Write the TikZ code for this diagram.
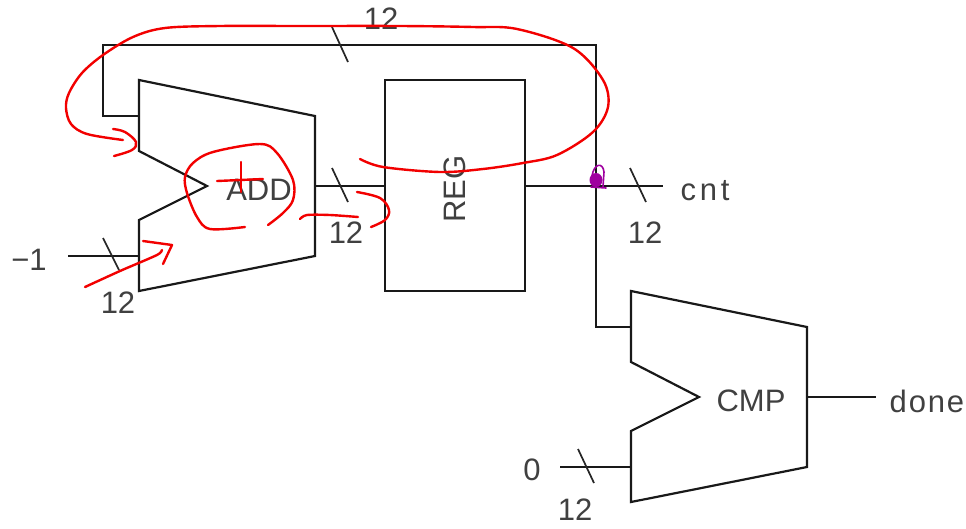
\documentclass[tikz,border=0pt]{standalone}
\usepackage{fontspec}
\setmainfont{Liberation Sans}
\begin{document}
\begin{tikzpicture}[x=1pt,y=-1pt,
  wire/.style={draw=black!90,line width=2.2pt,line join=miter},
  tick/.style={draw=black!85,line width=1.7pt},
  lbl/.style={inner sep=0pt,text=black!75,font=\fontsize{31}{31}\selectfont},
  ink/.style={draw=red!95!black,line width=2.4pt,line cap=round,line join=round},
  pen/.style={draw=violet!75!magenta,line width=1.6pt,line cap=round}]
\useasboundingbox[fill=white] (0,0) rectangle (966,528);
% ports
\coordinate (fbTL) at (103,45);
\coordinate (fbTR) at (596,45);
\coordinate (fbBL) at (103,116);
\coordinate (addA) at (139,116);
\coordinate (addB) at (139,256);
\coordinate (addO) at (315,186);
\coordinate (regI) at (385,186);
\coordinate (regO) at (525,186);
\coordinate (junc) at (596,186);
\coordinate (cntE) at (663,186);
\coordinate (cmpBend) at (596,327);
\coordinate (cmpA) at (631,327);
\coordinate (cmpB) at (631,467);
\coordinate (cmpO) at (807,397);
\coordinate (doneE) at (876,397);
\coordinate (m1E) at (68,256);
\coordinate (zeroE) at (560,467);
% blocks
\draw[wire] (139,80) -- (315,116) -- (315,256) -- (139,291) -- (139,220) -- (207,186) -- (139,151) -- cycle;
\draw[wire] (385,80) rectangle (525,291);
\draw[wire] (631,291) -- (807,327) -- (807,467) -- (631,502) -- (631,431) -- (699,397) -- (631,362) -- cycle;
% wires
\draw[wire] (addA) -- (fbBL) -- (fbTL) -- (fbTR) -- (junc) -- (cmpBend) -- (cmpA);
\draw[wire] (addO) -- (regI);
\draw[wire] (regO) -- (cntE);
\draw[wire] (m1E) -- (addB);
\draw[wire] (zeroE) -- (cmpB);
\draw[wire] (cmpO) -- (doneE);
% ticks
\draw[tick] (332,27) -- (348,62);
\draw[tick] (332,168) -- (348,202);
\draw[tick] (630,168) -- (646,202);
\draw[tick] (103,238) -- (119,270);
\draw[tick] (578,449) -- (594,483);
% labels
\node[lbl] (t12) at (381,19) {12};
\node[lbl] (a12) at (346,233) {12};
\node[lbl] (b12) at (118,303) {12};
\node[lbl] (c12) at (645,233) {12};
\node[lbl] (d12) at (575,510) {12};
\node[lbl] (m1) at (29,260) {−1};
\node[lbl] (zero) at (532,470) {0};
\node[lbl,anchor=base] (cnt) at (705,200) {\addfontfeatures{LetterSpace=12}cnt};
\node[lbl,anchor=base] (done) at (927,412) {\addfontfeatures{LetterSpace=6}done};
\node[lbl] (add) at (259,190) {ADD};
\node[lbl] (cmp) at (751,401) {CMP};
\node[lbl,rotate=90] (reg) at (455,189) {REG};
% red annotations
\draw[ink] plot[smooth,tension=0.55] coordinates {(360,159) (383,167) (440,172) (483,169) (523,163) (557,155) (593,132) (608,107) (603,80) (573,48) (517,29) (473,27) (400,26) (300,26) (220,26) (165,28) (133,37) (103,55) (82,73) (69,93) (66,108) (71,124) (87,134) (123,140)};
\draw[ink] plot[smooth,tension=0.6] coordinates {(113,129) (125,132) (136,142) (132,150) (114,156)};
\draw[ink] plot[smooth,tension=0.55] coordinates {(245,227) (210,229) (197,217) (187,193) (185,177) (193,163) (213,152) (260,144) (277,153) (293,180) (293,200) (283,213) (268,225)};
\draw[ink] (217,181) -- (263,179);
\draw[ink] (241,162) -- (241,192);
\draw[ink] plot[smooth,tension=0.5] coordinates {(300,219) (307,215) (330,215) (358,217)};
\draw[ink] plot[smooth,tension=0.6] coordinates {(357,192) (380,198) (389,210) (385,220) (371,227)};
\draw[ink] plot[smooth,tension=0.4] coordinates {(85,287) (120,271) (157,255) (162,250)};
\draw[ink] (143,241) -- (172,245) -- (163,264);
% purple scribble
\fill[violet!75!magenta] (596,180) ellipse (6.5pt and 7pt);
\draw[pen] (592,176) .. controls (594,163) and (603,162) .. (604,172) -- (603,187);
\draw[pen] (591,187) -- (606,188);
\end{tikzpicture}
\end{document}
